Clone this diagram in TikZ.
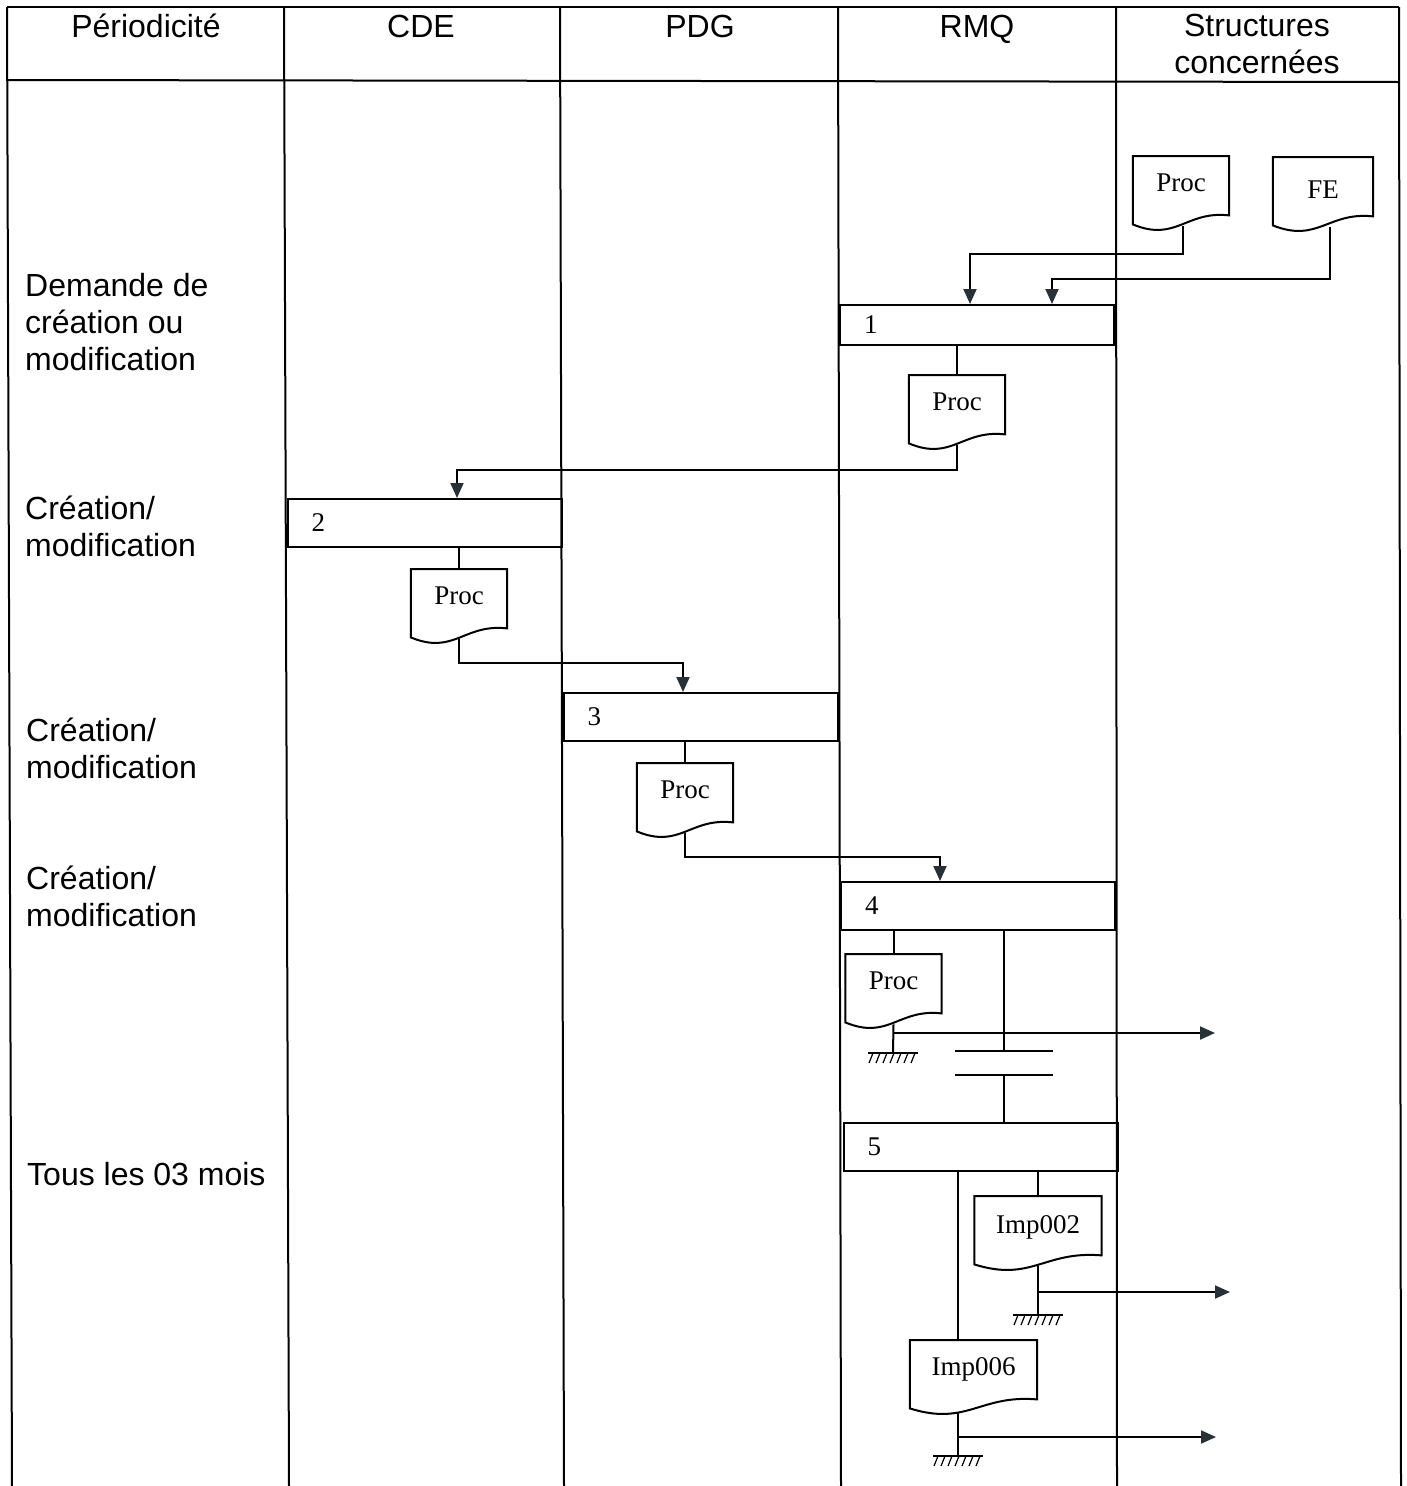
\documentclass[tikz,border=0pt]{standalone}
\usepackage{fontspec}
\setmainfont{Liberation Serif}
\setsansfont{Liberation Sans}
\usetikzlibrary{arrows.meta,calc}

\definecolor{tipgray}{RGB}{38,50,56}

\tikzset{
  grid/.style={line width=2pt, black},
  link/.style={line width=2pt, black},
  flow/.style={line width=2pt, black, -{Triangle[length=15pt,width=13pt,color=tipgray]}},
  headtext/.style={font=\sffamily\fontsize{32}{37}\selectfont, align=center, anchor=base, inner sep=0pt},
  rowtext/.style={font=\sffamily\fontsize{32}{37}\selectfont, align=left, anchor=base west, inner sep=0pt},
  stepbox/.style={draw, line width=2pt, rectangle, minimum width=274pt, minimum height=#1,
    inner xsep=24pt, inner ysep=0pt, text width=226pt, align=left,
    font=\fontsize{27}{30}\selectfont},
  docnode/.style={inner sep=0pt, minimum width=#1, text height=35pt, text depth=33pt,
    anchor=north, font=\fontsize{27}{30}\selectfont},
  outline/.style={line width=2pt, black, line join=miter},
}

% document symbol: flat top, wavy bottom
\newcommand\docoutline[1]{%
  \draw[outline] (#1.south west) -- (#1.north west) -- (#1.north east)
    -- ([yshift=9pt]#1.south east)
    .. controls ($(#1.south west)!0.55!(#1.south east)+(0pt,14pt)$)
       and ($(#1.south west)!0.45!(#1.south east)+(0pt,-18pt)$) .. cycle;}

% hatched earth symbol under an archive line
\newcommand\earth[1]{%
  \draw[link] ([xshift=-25pt]#1) -- ([xshift=25pt]#1);
  \foreach \dx in {-20,-13,-6,1,8,15,22}
    \draw[line width=1.2pt] ([xshift=\dx pt]#1) -- ++(-4,10);}

\begin{document}
\begin{tikzpicture}[x=1pt,y=-1pt]
\fill[white] (0,0) rectangle (1406,1486);
\useasboundingbox (0,0) rectangle (1406,1486);

% table frame
\draw[grid] (7,7) -- (1399,7);
\draw[grid] (7,80) -- (1399,82);
\draw[grid] (7,7) -- (12,1486);
\draw[grid] (284,7) -- (289,1486);
\draw[grid] (560,7) -- (564,1486);
\draw[grid] (838,7) -- (841,1486);
\draw[grid] (1116,7) -- (1117,1486);
\draw[grid] (1399,7) -- (1401,1486);

% column headers (base anchor sits on the last line)
\node[headtext] (h1) at (146,37) {Périodicité};
\node[headtext] (h2) at (421,37) {CDE};
\node[headtext] (h3) at (700,37) {PDG};
\node[headtext] (h4) at (977,37) {RMQ};
\node[headtext] (h5) at (1257,73) {Structures\\concernées};

% periodicity labels
\node[rowtext] (r1) at (25,370) {Demande de\\création ou\\modification};
\node[rowtext] (r2) at (25,556) {Création/\\modification};
\node[rowtext] (r3) at (26,778) {Création/\\modification};
\node[rowtext] (r4) at (26,926) {Création/\\modification};
\node[rowtext] (r5) at (27,1185) {Tous les 03 mois};

% process steps
\node[stepbox=40pt] (b1) at (977,325) {1};
\node[stepbox=48pt] (b2) at (424.5,523) {2};
\node[stepbox=48pt] (b3) at (700.5,717) {3};
\node[stepbox=48pt] (b4) at (978,906) {4};
\node[stepbox=48pt] (b5) at (980.5,1147) {5};

% documents
\node[docnode=96pt] (dP0) at (1181,156) {Proc};
\node[docnode=100pt, text height=41pt, text depth=27pt] (dFE) at (1323,157) {FE};
\node[docnode=96pt] (dP1) at (957,375) {Proc};
\node[docnode=96pt] (dP2) at (459,569) {Proc};
\node[docnode=96pt] (dP3) at (685,763) {Proc};
\node[docnode=96pt] (dP4) at (893.5,954) {Proc};
\node[docnode=127pt, text height=37pt, text depth=31pt] (dI2) at (1038,1196) {Imp002};
\node[docnode=127pt] (dI6) at (973.5,1340) {Imp006};
\foreach \d in {dP0,dFE,dP1,dP2,dP3,dP4,dI2,dI6} {\docoutline{\d}}

% bend points and free ends
\coordinate (kA) at (970,254);
\coordinate (kB) at (1052,279);
\coordinate (kC) at (457,470);
\coordinate (kD) at (683,663);
\coordinate (kE) at (940,857);
\coordinate (c1) at (1004,1051);
\coordinate (c2) at (1004,1075);
\coordinate (g1) at (893,1053);
\coordinate (g2) at (1038,1315);
\coordinate (g3) at (958,1456);
\coordinate (o1) at (1215,1033);
\coordinate (o2) at (1230,1292);
\coordinate (o3) at (1216,1437);

% request inputs to step 1
\draw[flow] ([xshift=2pt,yshift=-2pt]dP0.south) |- (kA) -- (kA |- b1.north);
\draw[flow] ([xshift=7pt,yshift=-2pt]dFE.south) |- (kB) -- (kB |- b1.north);

% step chain
\draw[link] (dP1.north |- b1.south) -- (dP1.north);
\draw[flow] ([yshift=-2pt]dP1.south) |- (kC) -- (kC |- b2.north);
\draw[link] (dP2.north |- b2.south) -- (dP2.north);
\draw[flow] ([yshift=-2pt]dP2.south) |- (kD) -- (kD |- b3.north);
\draw[link] (dP3.north |- b3.south) -- (dP3.north);
\draw[flow] ([yshift=-2pt]dP3.south) |- (kE) -- (kE |- b4.north);

% step 4: distribution and archiving
\draw[link] (dP4.north |- b4.south) -- (dP4.north);
\draw[link] ([yshift=-2pt]dP4.south) -- (g1);
\draw[flow] (dP4.south |- o1) -- (o1);
\earth{g1}

% waiting period between step 4 and step 5
\draw[link] (c1 |- b4.south) -- (c1);
\draw[link] ([xshift=-49pt]c1) -- ([xshift=49pt]c1);
\draw[link] ([xshift=-49pt]c2) -- ([xshift=49pt]c2);
\draw[link] (c2) -- (c2 |- b5.north);

% step 5 records
\draw[link] (dI2.north |- b5.south) -- (dI2.north);
\draw[link] ([yshift=-2pt]dI2.south) -- (g2);
\draw[flow] (dI2.south |- o2) -- (o2);
\earth{g2}

\draw[link] (g3 |- b5.south) -- (g3 |- dI6.north);
\draw[link] ([yshift=-5pt]g3 |- dI6.south) -- (g3);
\draw[flow] (g3 |- o3) -- (o3);
\earth{g3}
\end{tikzpicture}
\end{document}
